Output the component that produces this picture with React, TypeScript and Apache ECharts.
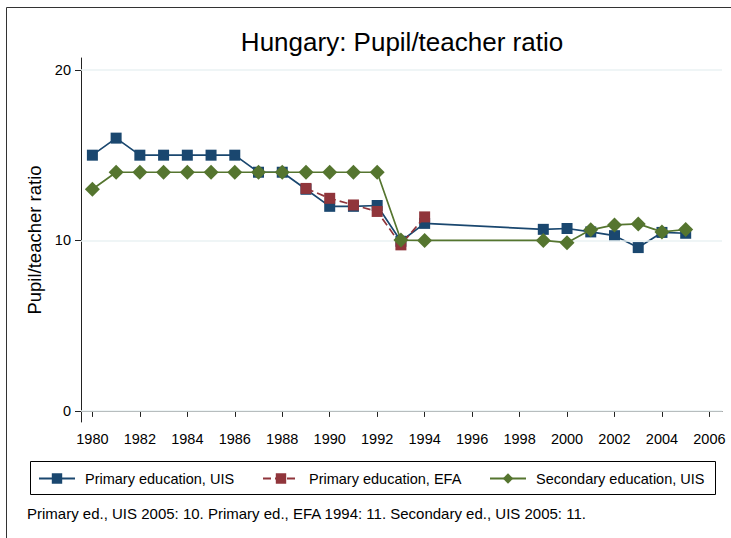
import React, { useEffect, useRef } from "react";
import * as echarts from "echarts";

const titleText = "Hungary: Pupil/teacher ratio";
const yAxisTitle = "Pupil/teacher ratio";
const noteText = "Primary ed., UIS 2005: 10. Primary ed., EFA 1994: 11. Secondary ed., UIS 2005: 11.";

const xTicks = [1980, 1982, 1984, 1986, 1988, 1990, 1992, 1994, 1996, 1998, 2000, 2002, 2004, 2006];
const yTicks = [0, 10, 20];

const primaryUisYears = [1980, 1981, 1982, 1983, 1984, 1985, 1986, 1987, 1988, 1989, 1990, 1991, 1992, 1993, 1994, 1999, 2000, 2001, 2002, 2003, 2004, 2005];
const primaryUisValues = [15, 16, 15, 15, 15, 15, 15, 14, 14, 13, 12, 12, 12.05, 9.95, 11, 10.65, 10.7, 10.5, 10.28, 9.58, 10.47, 10.42];

const primaryEfaYears = [1989, 1990, 1991, 1992, 1993, 1994];
const primaryEfaValues = [13.05, 12.47, 12.08, 11.7, 9.74, 11.38];

const secondaryUisYears = [1980, 1981, 1982, 1983, 1984, 1985, 1986, 1987, 1988, 1989, 1990, 1991, 1992, 1993, 1994, 1999, 2000, 2001, 2002, 2003, 2004, 2005];
const secondaryUisValues = [13, 14, 14, 14, 14, 14, 14, 14, 14, 14, 14, 14, 14, 10.02, 10, 10, 9.87, 10.62, 10.91, 10.97, 10.5, 10.64];

const seriesNames = ["Primary education, UIS", "Primary education, EFA", "Secondary education, UIS"];
const colors = ["#1a476f", "#90353b", "#55752f"];

const FONT = '"Liberation Sans", Arial, sans-serif';

function pairs(xs: number[], ys: number[]) {
  return xs.map((x, i) => [x, ys[i]]);
}

export default function App() {
  const ref = useRef<HTMLDivElement>(null);
  useEffect(() => {
    if (!ref.current) return;
    const chart = echarts.init(ref.current, null, { renderer: "svg" });
    const legendBase = {
      top: 471,
      padding: 0,
      itemWidth: 36,
      itemHeight: 13,
      textStyle: { fontFamily: FONT, fontSize: 14.5, color: "#000", padding: [0, 0, 0, 5] },
      selectedMode: false,
    };
    chart.setOption({
      animation: false,
      backgroundColor: "#fff",
      textStyle: { fontFamily: FONT },
      title: {
        text: titleText,
        left: 397,
        textAlign: "center",
        top: 24,
        textStyle: { fontFamily: FONT, fontSize: 26, fontWeight: "normal", color: "#000" },
      },
      legend: [
        { ...legendBase, left: 38, data: [seriesNames[0]] },
        { ...legendBase, left: 262, data: [seriesNames[1]] },
        { ...legendBase, left: 489, data: [seriesNames[2]] },
      ],
      grid: { left: 81, right: 9, top: 58, bottom: 116, containLabel: false },
      xAxis: {
        type: "value",
        min: 1979.52,
        max: 2006.53,
        axisLine: { show: true, lineStyle: { color: "#222", width: 1 } },
        axisTick: { show: true, length: 6, lineStyle: { color: "#222" }, customValues: xTicks },
        axisLabel: {
          customValues: xTicks,
          formatter: (v: number) => String(Math.round(v)),
          fontSize: 14.5,
          color: "#000",
          margin: 9,
          fontFamily: FONT,
        },
        splitLine: { show: false },
      },
      yAxis: {
        type: "value",
        min: -0.65,
        max: 20.7,
        name: yAxisTitle,
        nameLocation: "middle",
        nameGap: 37,
        nameTextStyle: { fontSize: 18.5, color: "#000", fontFamily: FONT },
        axisLine: { show: true, lineStyle: { color: "#222", width: 1 } },
        axisTick: { show: true, length: 6, lineStyle: { color: "#222" }, customValues: yTicks },
        axisLabel: {
          customValues: yTicks,
          formatter: (v: number) => String(Math.round(v)),
          fontSize: 14.5,
          color: "#000",
          margin: 10,
          fontFamily: FONT,
        },
        splitLine: { show: false },
      },
      series: [
        {
          type: "line",
          name: "grid",
          data: [],
          z: 1,
          silent: true,
          markLine: {
            silent: true,
            symbol: ["none", "none"],
            label: { show: false },
            lineStyle: { color: "#eaf2f3", type: "solid", width: 1.5 },
            data: yTicks.map((v) => ({ yAxis: v })),
          },
        },
        {
          type: "line",
          name: seriesNames[0],
          data: pairs(primaryUisYears, primaryUisValues),
          z: 3,
          color: colors[0],
          symbol: "rect",
          symbolSize: 11,
          lineStyle: { color: colors[0], width: 1.7 },
          itemStyle: { color: colors[0] },
        },
        {
          type: "line",
          name: seriesNames[1],
          data: pairs(primaryEfaYears, primaryEfaValues),
          z: 4,
          color: colors[1],
          symbol: "rect",
          symbolSize: 11,
          lineStyle: { color: colors[1], width: 1.7, type: [8, 4] },
          itemStyle: { color: colors[1] },
        },
        {
          type: "line",
          name: seriesNames[2],
          data: pairs(secondaryUisYears, secondaryUisValues),
          z: 5,
          color: colors[2],
          symbol: "diamond",
          symbolSize: 15,
          lineStyle: { color: colors[2], width: 1.7 },
          itemStyle: { color: colors[2] },
        },
      ],
      graphic: [
        {
          type: "rect",
          silent: true,
          shape: { x: 6.5, y: 7.5, width: 760, height: 560 },
          style: { fill: "none", stroke: "#333", lineWidth: 1 },
        },
        {
          type: "rect",
          silent: true,
          shape: { x: 30.5, y: 461.5, width: 685, height: 33 },
          style: { fill: "none", stroke: "#000", lineWidth: 1 },
        },
        {
          type: "text",
          left: 27,
          top: 506,
          silent: true,
          style: { text: noteText, fontFamily: FONT, fontSize: 15, fill: "#000" },
        },
      ],
    });
    return () => chart.dispose();
  }, []);
  return <div ref={ref} style={{ position: "fixed", left: 0, top: 0, width: 731, height: 538 }} />;
}
